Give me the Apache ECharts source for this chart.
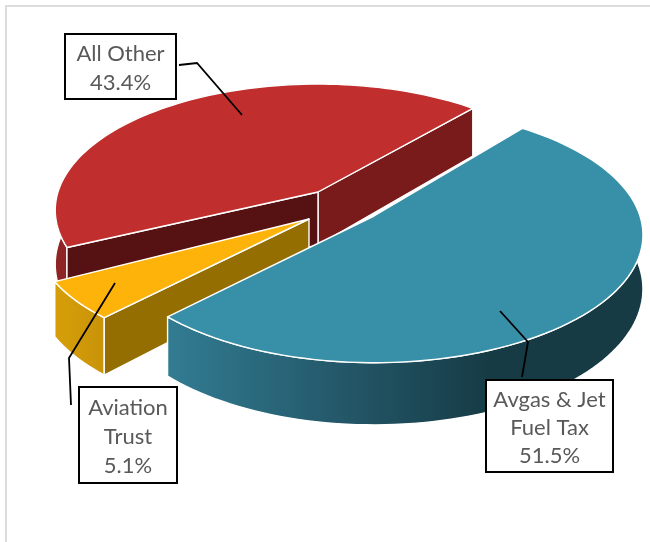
<!DOCTYPE html>
<html>
<head>
<meta charset="utf-8">
<style>html,body{margin:0;padding:0;background:#fff}#c{width:650px;height:542px}</style>
<script src="https://cdn.jsdelivr.net/npm/echarts@6/dist/echarts.min.js"></script>
</head>
<body>
<div id="c"></div>
<script>
// Data
var categories = ['Avgas & Jet\nFuel Tax', 'Aviation\nTrust', 'All Other'];
var shares = [51.5, 5.1, 43.4];

// Look
var topColors = ['#388fa8', '#fdb309', '#c02e2e'];
var startAngle = 37, depth = 1800;
var slices = [
  {apex:[374,216], R:266, t:53, z:3, tilt:.47, turn:1.5},
  {apex:[309,219], R:270, t:51, z:2, tilt:.44, turn:0},
  {apex:[318,192], R:260, t:53, z:1, tilt:.475, turn:4.3}
];
var boxes = [
  {x:486, y:380, w:127, h:92, lh:28},
  {x:79,  y:387, w:98,  h:96, lh:29},
  {x:65,  y:34,  w:111, h:65, lh:29}
];
var leaders = [
  [[500,311],[528,342],[522,377]],
  [[115,283],[69,358],[71,405]],
  [[179,65],[197,63],[242,115]]
];

function project(s, a, r, drop) {
  var rad = a * Math.PI / 180, X = r * Math.sin(rad), Y = r * Math.cos(rad);
  var f = depth / (depth + Y);
  return [s.apex[0] + X * f, s.apex[1] - s.tilt * Y * f + (drop || 0) * f];
}
function arc(s, a0, a1, drop) {
  var pts = [], n = 90;
  for (var i = 0; i <= n; i++) pts.push(project(s, a0 + (a1 - a0) * i / n, s.R, drop));
  return pts;
}
function grad(stops) { return new echarts.graphic.LinearGradient(0, 0, 1, 0, stops); }

function renderItem(params, api) {
  var i = params.dataIndex, s = slices[i], total = 0, before = 0;
  shares.forEach(function (v, k) { total += v; if (k < i) before += v; });
  var a0 = startAngle + s.turn + before / total * 360;
  var a1 = a0 + api.value(0) / total * 360;
  var ch = [], line = {stroke: '#fff', lineWidth: 1.4, lineJoin: 'round'};
  function poly(points, fill, z) {
    ch.push({type: 'polygon', z2: s.z * 10 + z, shape: {points: points},
      style: Object.assign({fill: fill}, line)});
  }
  var w0 = Math.max(a0, 65), w1 = Math.min(a1, 300);
  var wallFill = [
    grad([{offset:0,color:'#327c92'},{offset:.35,color:'#24596b'},{offset:.68,color:'#163b45'},{offset:1,color:'#163b45'}]),
    grad([{offset:0,color:'#d69f08'},{offset:1,color:'#c9930a'}]),
    '#8f2424'
  ][i];
  poly(arc(s, w0, w1, 0).concat(arc(s, w0, w1, s.t).reverse()), wallFill, 0);
  function cut(a, fill, z) {
    var e = project(s, a, s.R, 0), eb = project(s, a, s.R, s.t);
    poly([s.apex, e, eb, [s.apex[0], s.apex[1] + s.t]], fill, z);
  }
  if (i === 1) cut(a0, '#946e00', 1);
  if (i === 2) { cut(a1, '#7a1b1b', 1); cut(a0, '#561212', 2); }
  poly([s.apex].concat(arc(s, a0, a1, 0)), topColors[i], 3);

  // label box and leader
  var b = boxes[i];
  ch.push({type: 'polyline', z2: 100, shape: {points: leaders[i]},
    style: {fill: null, stroke: '#000', lineWidth: 1.8}});
  ch.push({type: 'rect', z2: 101, shape: {x: b.x, y: b.y, width: b.w, height: b.h},
    style: {fill: '#fff', stroke: '#000', lineWidth: 2}});
  ch.push({type: 'text', z2: 102, x: b.x + b.w / 2, y: b.y + b.h / 2 + 2,
    style: {text: categories[i] + '\n' + api.value(0).toFixed(1) + '%',
      fill: '#595959', font: '22px Lato', align: 'center', verticalAlign: 'middle', lineHeight: b.lh}});
  return {type: 'group', children: ch};
}

var chart = echarts.init(document.getElementById('c'), null, {renderer: 'canvas'});
chart.setOption({
  animation: false,
  backgroundColor: '#fff',
  graphic: [
    {type: 'polyline', shape: {points: [[6,542],[6,6],[650,6]]},
      style: {fill: null, stroke: '#dcdcdc', lineWidth: 2}}
  ],
  series: [{
    type: 'custom',
    coordinateSystem: 'none',
    renderItem: renderItem,
    data: shares.map(function (v, k) { return {name: categories[k], value: [v]}; })
  }]
});
</script>
</body>
</html>
